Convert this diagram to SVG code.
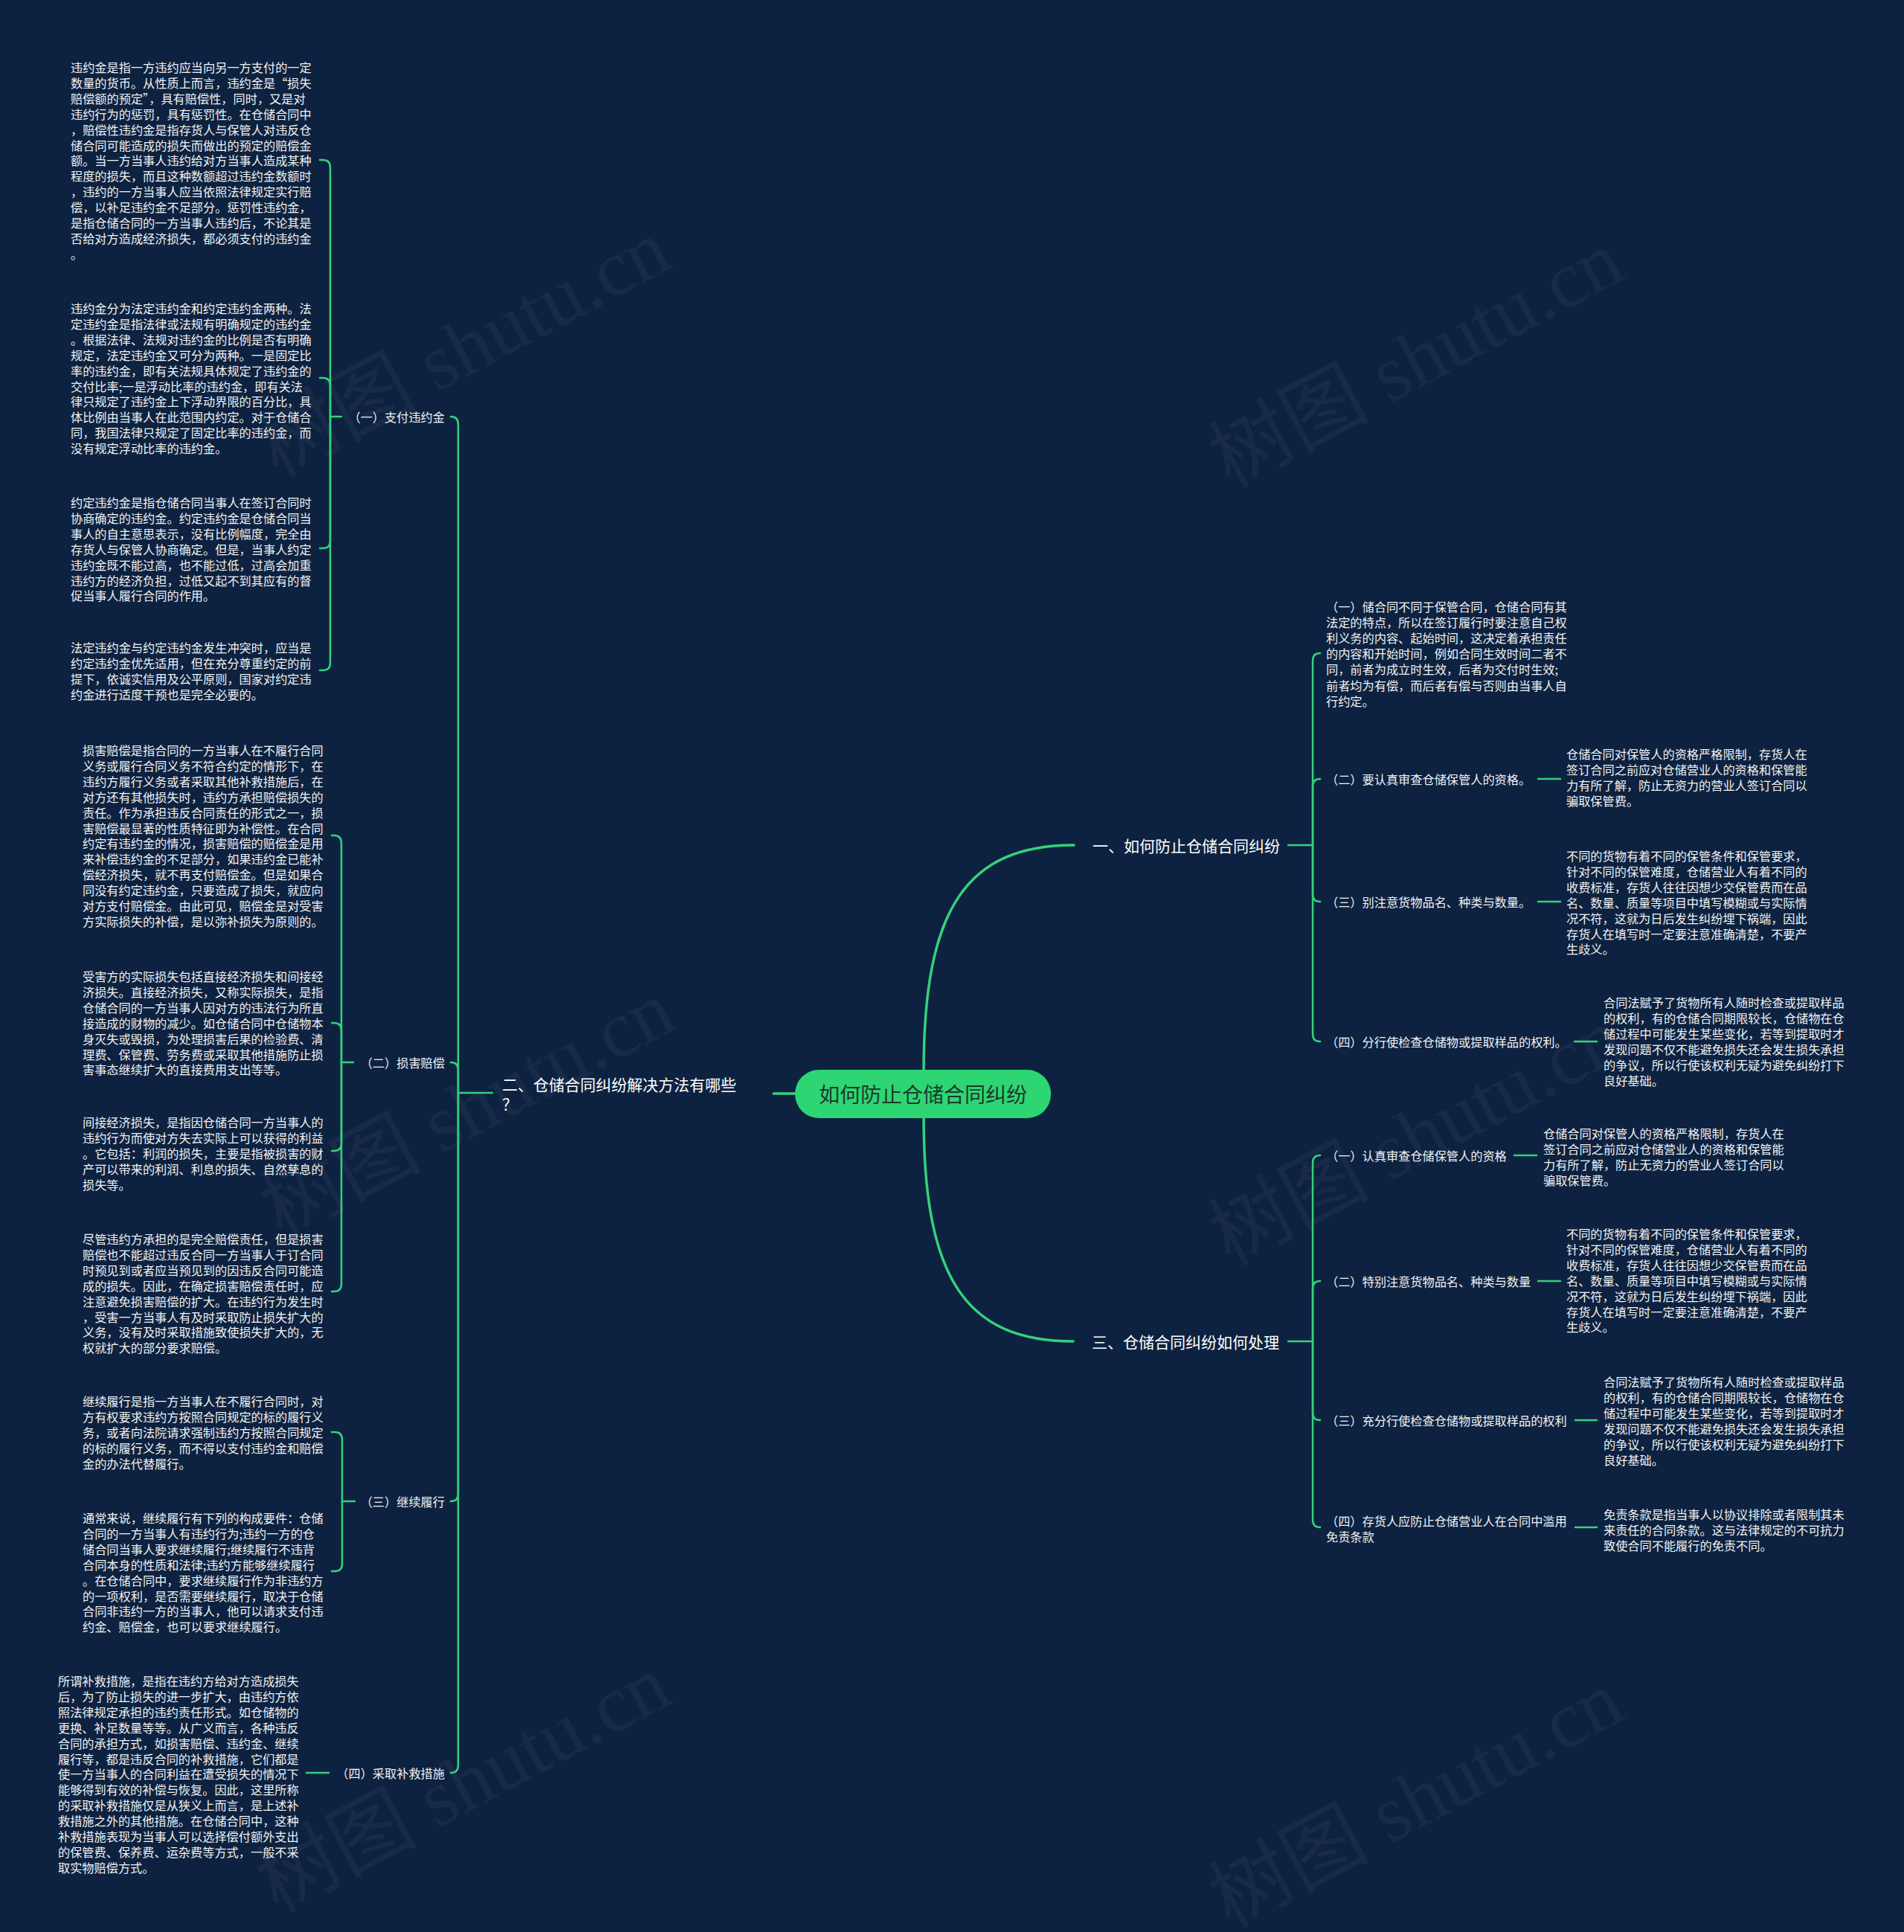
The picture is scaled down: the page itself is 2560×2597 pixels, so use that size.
<svg xmlns="http://www.w3.org/2000/svg" width="2560" height="2597" viewBox="0 0 2560 2597">
<style>
.t{font-family:"Noto Sans CJK SC","Noto Sans",sans-serif;fill:#f2f2f2;font-size:16.2px;dominant-baseline:central}
.l1{font-size:21px;fill:#ffffff}
.root{font-size:28px;fill:#1c3a2c;text-anchor:middle}
.end{text-anchor:end}
.ln{fill:none;stroke:#34d27b;stroke-width:2.5;stroke-linecap:round}
.lm{fill:none;stroke:#34d27b;stroke-width:3.5;stroke-linecap:round}
.wm{font-family:"Liberation Serif","Noto Sans CJK SC",serif;font-size:108px;fill:#ffffff;opacity:0.04}
</style>
<rect x="0" y="0" width="2560" height="2597" fill="#0d2240"/>
<g id="watermarks">
<text class="wm" x="640" y="500" text-anchor="middle" transform="rotate(-28 640 500)">树图 shutu.cn</text>
<text class="wm" x="1921" y="515" text-anchor="middle" transform="rotate(-28 1921 515)">树图 shutu.cn</text>
<text class="wm" x="646" y="1523" text-anchor="middle" transform="rotate(-28 646 1523)">树图 shutu.cn</text>
<text class="wm" x="1921" y="1560" text-anchor="middle" transform="rotate(-28 1921 1560)">树图 shutu.cn</text>
<text class="wm" x="640" y="2430" text-anchor="middle" transform="rotate(-28 640 2430)">树图 shutu.cn</text>
<text class="wm" x="1921" y="2451" text-anchor="middle" transform="rotate(-28 1921 2451)">树图 shutu.cn</text>
</g>
<g id="connectors">
<path class="lm" d="M1242,1438 C1242,1221 1300,1136 1444,1136"/>
<path class="lm" d="M1242,1503 C1242,1720 1300,1803 1443,1803"/>
<path class="lm" d="M1069,1470 L1040,1470"/>
<path class="ln" d="M662,1469 L616,1469"/>
<path class="ln" d="M616,1469 L616,570 Q616,560 606,560"/>
<path class="ln" d="M616,1469 L616,1438 Q616,1428 606,1428"/>
<path class="ln" d="M616,1469 L616,2008 Q616,2018 606,2018"/>
<path class="ln" d="M616,1469 L616,2373 Q616,2383 606,2383"/>
<path class="ln" d="M459,560 L444,560"/>
<path class="ln" d="M444,560 L444,225 Q444,215 434,215 L430,215"/>
<path class="ln" d="M444,560 L444,518 Q444,508 434,508 L430,508"/>
<path class="ln" d="M444,560 L444,727 Q444,737 434,737 L430,737"/>
<path class="ln" d="M444,560 L444,891 Q444,901 434,901 L430,901"/>
<path class="ln" d="M475,1428 L459,1428"/>
<path class="ln" d="M459,1428 L459,1133 Q459,1123 449,1123 L446,1123"/>
<path class="ln" d="M459,1428 L459,1385 Q459,1375 449,1375 L446,1375"/>
<path class="ln" d="M459,1428 L459,1537 Q459,1547 449,1547 L446,1547"/>
<path class="ln" d="M459,1428 L459,1726 Q459,1736 449,1736 L446,1736"/>
<path class="ln" d="M477,2018 L460,2018"/>
<path class="ln" d="M460,2018 L460,1935 Q460,1925 450,1925 L446,1925"/>
<path class="ln" d="M460,2018 L460,2102 Q460,2112 450,2112 L446,2112"/>
<path class="ln" d="M442,2383 L412,2383"/>
<path class="ln" d="M1732,1136 L1765,1136"/>
<path class="ln" d="M1765,1136 L1765,888 Q1765,878 1775,878"/>
<path class="ln" d="M1765,1136 L1765,1057 Q1765,1047 1775,1047"/>
<path class="ln" d="M1765,1136 L1765,1202 Q1765,1212 1775,1212"/>
<path class="ln" d="M1765,1136 L1765,1390 Q1765,1400 1775,1400"/>
<path class="ln" d="M2068,1047 L2098,1047"/>
<path class="ln" d="M2068,1212 L2098,1212"/>
<path class="ln" d="M2117,1400 L2147,1400"/>
<path class="ln" d="M1732,1803 L1765,1803"/>
<path class="ln" d="M1765,1803 L1765,1563 Q1765,1553 1775,1553"/>
<path class="ln" d="M1765,1803 L1765,1732 Q1765,1722 1775,1722"/>
<path class="ln" d="M1765,1803 L1765,1899 Q1765,1909 1775,1909"/>
<path class="ln" d="M1765,1803 L1765,2043 Q1765,2053 1775,2053"/>
<path class="ln" d="M2036,1553 L2066,1553"/>
<path class="ln" d="M2068,1722 L2098,1722"/>
<path class="ln" d="M2118,1909 L2147,1909"/>
<path class="ln" d="M2118,2053 L2147,2053"/>
</g>
<g id="root">
<rect x="1069" y="1438" width="344" height="65" rx="32" fill="#2ed573"/>
<text class="t root" x="1241" y="1470">如何防止仓储合同纠纷</text>
</g>
<g id="n-er">
<text class="t l1" x="675" y="1457"><tspan x="675">二、仓储合同纠纷解决方法有哪些</tspan><tspan x="675" dy="26">？</tspan></text>
</g>
<g id="n-er-1"><text class="t end" x="598" y="560">（一）支付违约金</text></g>
<g id="n-er-2"><text class="t end" x="598" y="1428">（二）损害赔偿</text></g>
<g id="n-er-3"><text class="t end" x="598" y="2018">（三）继续履行</text></g>
<g id="n-er-4"><text class="t end" x="598" y="2383">（四）采取补救措施</text></g>
<g id="p1"><text class="t" y="90"><tspan x="95">违约金是指一方违约应当向另一方支付的一定</tspan><tspan x="95" dy="20.9">数量的货币。从性质上而言，违约金是“损失</tspan><tspan x="95" dy="20.9">赔偿额的预定”，具有赔偿性，同时，又是对</tspan><tspan x="95" dy="20.9">违约行为的惩罚，具有惩罚性。在仓储合同中</tspan><tspan x="95" dy="20.9">，赔偿性违约金是指存货人与保管人对违反仓</tspan><tspan x="95" dy="20.9">储合同可能造成的损失而做出的预定的赔偿金</tspan><tspan x="95" dy="20.9">额。当一方当事人违约给对方当事人造成某种</tspan><tspan x="95" dy="20.9">程度的损失，而且这种数额超过违约金数额时</tspan><tspan x="95" dy="20.9">，违约的一方当事人应当依照法律规定实行赔</tspan><tspan x="95" dy="20.9">偿，以补足违约金不足部分。惩罚性违约金，</tspan><tspan x="95" dy="20.9">是指仓储合同的一方当事人违约后，不论其是</tspan><tspan x="95" dy="20.9">否给对方造成经济损失，都必须支付的违约金</tspan><tspan x="95" dy="20.9">。</tspan></text></g>
<g id="p2"><text class="t" y="414"><tspan x="95">违约金分为法定违约金和约定违约金两种。法</tspan><tspan x="95" dy="20.9">定违约金是指法律或法规有明确规定的违约金</tspan><tspan x="95" dy="20.9">。根据法律、法规对违约金的比例是否有明确</tspan><tspan x="95" dy="20.9">规定，法定违约金又可分为两种。一是固定比</tspan><tspan x="95" dy="20.9">率的违约金，即有关法规具体规定了违约金的</tspan><tspan x="95" dy="20.9">交付比率;一是浮动比率的违约金，即有关法</tspan><tspan x="95" dy="20.9">律只规定了违约金上下浮动界限的百分比，具</tspan><tspan x="95" dy="20.9">体比例由当事人在此范围内约定。对于仓储合</tspan><tspan x="95" dy="20.9">同，我国法律只规定了固定比率的违约金，而</tspan><tspan x="95" dy="20.9">没有规定浮动比率的违约金。</tspan></text></g>
<g id="p3"><text class="t" y="675"><tspan x="95">约定违约金是指仓储合同当事人在签订合同时</tspan><tspan x="95" dy="20.9">协商确定的违约金。约定违约金是仓储合同当</tspan><tspan x="95" dy="20.9">事人的自主意思表示，没有比例幅度，完全由</tspan><tspan x="95" dy="20.9">存货人与保管人协商确定。但是，当事人约定</tspan><tspan x="95" dy="20.9">违约金既不能过高，也不能过低，过高会加重</tspan><tspan x="95" dy="20.9">违约方的经济负担，过低又起不到其应有的督</tspan><tspan x="95" dy="20.9">促当事人履行合同的作用。</tspan></text></g>
<g id="p4"><text class="t" y="870"><tspan x="95">法定违约金与约定违约金发生冲突时，应当是</tspan><tspan x="95" dy="20.9">约定违约金优先适用，但在充分尊重约定的前</tspan><tspan x="95" dy="20.9">提下，依诚实信用及公平原则，国家对约定违</tspan><tspan x="95" dy="20.9">约金进行适度干预也是完全必要的。</tspan></text></g>
<g id="p5"><text class="t" y="1008"><tspan x="111">损害赔偿是指合同的一方当事人在不履行合同</tspan><tspan x="111" dy="20.9">义务或履行合同义务不符合约定的情形下，在</tspan><tspan x="111" dy="20.9">违约方履行义务或者采取其他补救措施后，在</tspan><tspan x="111" dy="20.9">对方还有其他损失时，违约方承担赔偿损失的</tspan><tspan x="111" dy="20.9">责任。作为承担违反合同责任的形式之一，损</tspan><tspan x="111" dy="20.9">害赔偿最显著的性质特征即为补偿性。在合同</tspan><tspan x="111" dy="20.9">约定有违约金的情况，损害赔偿的赔偿金是用</tspan><tspan x="111" dy="20.9">来补偿违约金的不足部分，如果违约金已能补</tspan><tspan x="111" dy="20.9">偿经济损失，就不再支付赔偿金。但是如果合</tspan><tspan x="111" dy="20.9">同没有约定违约金，只要造成了损失，就应向</tspan><tspan x="111" dy="20.9">对方支付赔偿金。由此可见，赔偿金是对受害</tspan><tspan x="111" dy="20.9">方实际损失的补偿，是以弥补损失为原则的。</tspan></text></g>
<g id="p6"><text class="t" y="1312"><tspan x="111">受害方的实际损失包括直接经济损失和间接经</tspan><tspan x="111" dy="20.9">济损失。直接经济损失，又称实际损失，是指</tspan><tspan x="111" dy="20.9">仓储合同的一方当事人因对方的违法行为所直</tspan><tspan x="111" dy="20.9">接造成的财物的减少。如仓储合同中仓储物本</tspan><tspan x="111" dy="20.9">身灭失或毁损，为处理损害后果的检验费、清</tspan><tspan x="111" dy="20.9">理费、保管费、劳务费或采取其他措施防止损</tspan><tspan x="111" dy="20.9">害事态继续扩大的直接费用支出等等。</tspan></text></g>
<g id="p7"><text class="t" y="1508"><tspan x="111">间接经济损失，是指因仓储合同一方当事人的</tspan><tspan x="111" dy="20.9">违约行为而使对方失去实际上可以获得的利益</tspan><tspan x="111" dy="20.9">。它包括：利润的损失，主要是指被损害的财</tspan><tspan x="111" dy="20.9">产可以带来的利润、利息的损失、自然孳息的</tspan><tspan x="111" dy="20.9">损失等。</tspan></text></g>
<g id="p8"><text class="t" y="1665"><tspan x="111">尽管违约方承担的是完全赔偿责任，但是损害</tspan><tspan x="111" dy="20.9">赔偿也不能超过违反合同一方当事人于订合同</tspan><tspan x="111" dy="20.9">时预见到或者应当预见到的因违反合同可能造</tspan><tspan x="111" dy="20.9">成的损失。因此，在确定损害赔偿责任时，应</tspan><tspan x="111" dy="20.9">注意避免损害赔偿的扩大。在违约行为发生时</tspan><tspan x="111" dy="20.9">，受害一方当事人有及时采取防止损失扩大的</tspan><tspan x="111" dy="20.9">义务，没有及时采取措施致使损失扩大的，无</tspan><tspan x="111" dy="20.9">权就扩大的部分要求赔偿。</tspan></text></g>
<g id="p9"><text class="t" y="1883"><tspan x="111">继续履行是指一方当事人在不履行合同时，对</tspan><tspan x="111" dy="20.9">方有权要求违约方按照合同规定的标的履行义</tspan><tspan x="111" dy="20.9">务，或者向法院请求强制违约方按照合同规定</tspan><tspan x="111" dy="20.9">的标的履行义务，而不得以支付违约金和赔偿</tspan><tspan x="111" dy="20.9">金的办法代替履行。</tspan></text></g>
<g id="p10"><text class="t" y="2040"><tspan x="111">通常来说，继续履行有下列的构成要件：仓储</tspan><tspan x="111" dy="20.9">合同的一方当事人有违约行为;违约一方的仓</tspan><tspan x="111" dy="20.9">储合同当事人要求继续履行;继续履行不违背</tspan><tspan x="111" dy="20.9">合同本身的性质和法律;违约方能够继续履行</tspan><tspan x="111" dy="20.9">。在仓储合同中，要求继续履行作为非违约方</tspan><tspan x="111" dy="20.9">的一项权利，是否需要继续履行，取决于仓储</tspan><tspan x="111" dy="20.9">合同非违约一方的当事人，他可以请求支付违</tspan><tspan x="111" dy="20.9">约金、赔偿金，也可以要求继续履行。</tspan></text></g>
<g id="p11"><text class="t" y="2259"><tspan x="78">所谓补救措施，是指在违约方给对方造成损失</tspan><tspan x="78" dy="20.9">后，为了防止损失的进一步扩大，由违约方依</tspan><tspan x="78" dy="20.9">照法律规定承担的违约责任形式。如仓储物的</tspan><tspan x="78" dy="20.9">更换、补足数量等等。从广义而言，各种违反</tspan><tspan x="78" dy="20.9">合同的承担方式，如损害赔偿、违约金、继续</tspan><tspan x="78" dy="20.9">履行等，都是违反合同的补救措施，它们都是</tspan><tspan x="78" dy="20.9">使一方当事人的合同利益在遭受损失的情况下</tspan><tspan x="78" dy="20.9">能够得到有效的补偿与恢复。因此，这里所称</tspan><tspan x="78" dy="20.9">的采取补救措施仅是从狭义上而言，是上述补</tspan><tspan x="78" dy="20.9">救措施之外的其他措施。在仓储合同中，这种</tspan><tspan x="78" dy="20.9">补救措施表现为当事人可以选择偿付额外支出</tspan><tspan x="78" dy="20.9">的保管费、保养费、运杂费等方式，一般不采</tspan><tspan x="78" dy="20.9">取实物赔偿方式。</tspan></text></g>
<g id="n-yi"><text class="t l1" x="1469" y="1136">一、如何防止仓储合同纠纷</text></g>
<g id="n-yi-1"><text class="t" y="815"><tspan x="1783">（一）储合同不同于保管合同，仓储合同有其</tspan><tspan x="1783" dy="21.1">法定的特点，所以在签订履行时要注意自己权</tspan><tspan x="1783" dy="21.1">利义务的内容、起始时间，这决定着承担责任</tspan><tspan x="1783" dy="21.1">的内容和开始时间，例如合同生效时间二者不</tspan><tspan x="1783" dy="21.1">同，前者为成立时生效，后者为交付时生效;</tspan><tspan x="1783" dy="21.1">前者均为有偿，而后者有偿与否则由当事人自</tspan><tspan x="1783" dy="21.1">行约定。</tspan></text></g>
<g id="n-yi-2"><text class="t" x="1783" y="1047">（二）要认真审查仓储保管人的资格。</text></g>
<g id="d-yi-2"><text class="t" y="1013"><tspan x="2106">仓储合同对保管人的资格严格限制，存货人在</tspan><tspan x="2106" dy="21.1">签订合同之前应对仓储营业人的资格和保管能</tspan><tspan x="2106" dy="21.1">力有所了解，防止无资力的营业人签订合同以</tspan><tspan x="2106" dy="21.1">骗取保管费。</tspan></text></g>
<g id="n-yi-3"><text class="t" x="1783" y="1212">（三）别注意货物品名、种类与数量。</text></g>
<g id="d-yi-3"><text class="t" y="1150"><tspan x="2106">不同的货物有着不同的保管条件和保管要求，</tspan><tspan x="2106" dy="20.9">针对不同的保管难度，仓储营业人有着不同的</tspan><tspan x="2106" dy="20.9">收费标准，存货人往往因想少交保管费而在品</tspan><tspan x="2106" dy="20.9">名、数量、质量等项目中填写模糊或与实际情</tspan><tspan x="2106" dy="20.9">况不符，这就为日后发生纠纷埋下祸端，因此</tspan><tspan x="2106" dy="20.9">存货人在填写时一定要注意准确清楚，不要产</tspan><tspan x="2106" dy="20.9">生歧义。</tspan></text></g>
<g id="n-yi-4"><text class="t" x="1783" y="1400">（四）分行使检查仓储物或提取样品的权利。</text></g>
<g id="d-yi-4"><text class="t" y="1347"><tspan x="2156">合同法赋予了货物所有人随时检查或提取样品</tspan><tspan x="2156" dy="20.9">的权利，有的仓储合同期限较长，仓储物在仓</tspan><tspan x="2156" dy="20.9">储过程中可能发生某些变化，若等到提取时才</tspan><tspan x="2156" dy="20.9">发现问题不仅不能避免损失还会发生损失承担</tspan><tspan x="2156" dy="20.9">的争议，所以行使该权利无疑为避免纠纷打下</tspan><tspan x="2156" dy="20.9">良好基础。</tspan></text></g>
<g id="n-san"><text class="t l1" x="1468" y="1803">三、仓储合同纠纷如何处理</text></g>
<g id="n-san-1"><text class="t" x="1783" y="1553">（一）认真审查仓储保管人的资格</text></g>
<g id="d-san-1"><text class="t" y="1523"><tspan x="2075">仓储合同对保管人的资格严格限制，存货人在</tspan><tspan x="2075" dy="21.1">签订合同之前应对仓储营业人的资格和保管能</tspan><tspan x="2075" dy="21.1">力有所了解，防止无资力的营业人签订合同以</tspan><tspan x="2075" dy="21.1">骗取保管费。</tspan></text></g>
<g id="n-san-2"><text class="t" x="1783" y="1722">（二）特别注意货物品名、种类与数量</text></g>
<g id="d-san-2"><text class="t" y="1658"><tspan x="2106">不同的货物有着不同的保管条件和保管要求，</tspan><tspan x="2106" dy="20.9">针对不同的保管难度，仓储营业人有着不同的</tspan><tspan x="2106" dy="20.9">收费标准，存货人往往因想少交保管费而在品</tspan><tspan x="2106" dy="20.9">名、数量、质量等项目中填写模糊或与实际情</tspan><tspan x="2106" dy="20.9">况不符，这就为日后发生纠纷埋下祸端，因此</tspan><tspan x="2106" dy="20.9">存货人在填写时一定要注意准确清楚，不要产</tspan><tspan x="2106" dy="20.9">生歧义。</tspan></text></g>
<g id="n-san-3"><text class="t" x="1783" y="1909">（三）充分行使检查仓储物或提取样品的权利</text></g>
<g id="d-san-3"><text class="t" y="1857"><tspan x="2156">合同法赋予了货物所有人随时检查或提取样品</tspan><tspan x="2156" dy="20.9">的权利，有的仓储合同期限较长，仓储物在仓</tspan><tspan x="2156" dy="20.9">储过程中可能发生某些变化，若等到提取时才</tspan><tspan x="2156" dy="20.9">发现问题不仅不能避免损失还会发生损失承担</tspan><tspan x="2156" dy="20.9">的争议，所以行使该权利无疑为避免纠纷打下</tspan><tspan x="2156" dy="20.9">良好基础。</tspan></text></g>
<g id="n-san-4"><text class="t" y="2044"><tspan x="1783">（四）存货人应防止仓储营业人在合同中滥用</tspan><tspan x="1783" dy="21">免责条款</tspan></text></g>
<g id="d-san-4"><text class="t" y="2035"><tspan x="2156">免责条款是指当事人以协议排除或者限制其未</tspan><tspan x="2156" dy="21.1">来责任的合同条款。这与法律规定的不可抗力</tspan><tspan x="2156" dy="21.1">致使合同不能履行的免责不同。</tspan></text></g>
</svg>
